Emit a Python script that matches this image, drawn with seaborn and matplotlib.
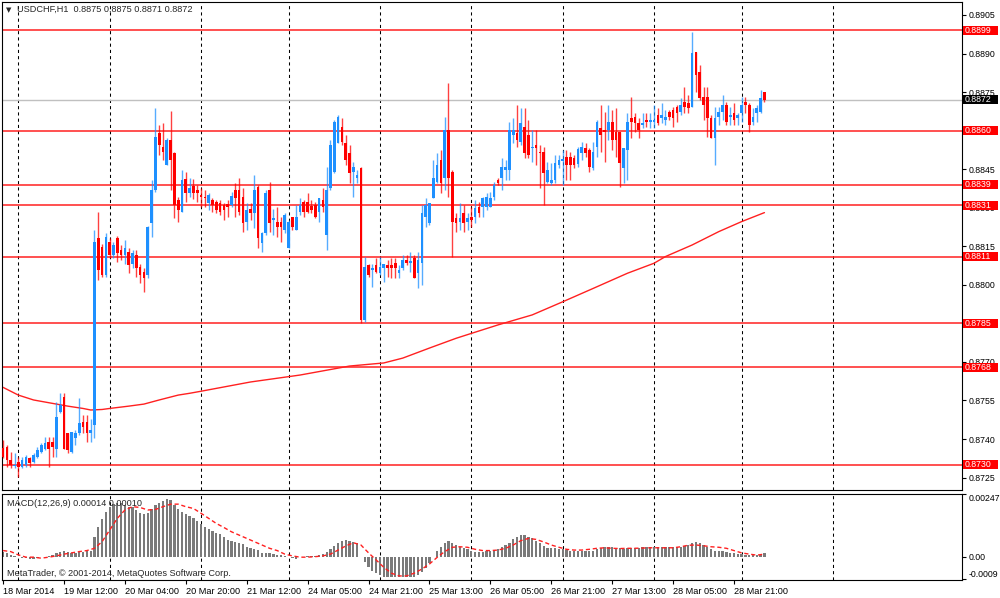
import numpy as np
import pandas as pd
import matplotlib
matplotlib.use("Agg")
import matplotlib.pyplot as plt
import matplotlib.transforms as mtransforms
from matplotlib.patches import Rectangle
import seaborn as sns

## USDCHF H1 candles, values in pips above 0.8700 (one per hourly bar)
base = 0.8700
pip = 0.0001

opens = [36.4, 37.0, 31.9, 29.4, 31.0, 29.3, 29.9, 32.5, 31.2, 33.1,
         35.0, 36.3, 39.0, 39.0, 36.3, 50.6, 56.5, 42.2, 35.0, 40.3,
         42.2, 46.7, 46.7, 42.2, 45.4, 118.1, 114.8, 103.8, 116.8, 111.6,
         118.1, 113.5, 111.6, 112.9, 108.3, 111.6, 107.1, 105.1, 103.8, 123.9,
         137.0, 158.9, 153.7, 146.6, 156.3, 151.2, 133.0, 128.5, 141.0, 135.6,
         138.4, 136.9,
         135.0, 134.0, 132.0, 133.0, 132.3, 131.7, 131.0, 131.3, 131.0, 136.9,
         136.9, 134.3, 124.6, 129.7, 127.8, 138.2, 116.1, 120.0, 136.9, 125.2,
         124.6, 124.6, 121.3, 114.2, 126.5, 121.3, 128.5, 132.3, 132.3, 130.7,
         131.1, 128.5, 133.0, 119.4, 137.5, 144.0, 155.0, 161.5, 155.0, 151.2,
         144.0, 141.4, 145.3, 86.3, 107.7, 105.8, 107.7, 104.5, 106.4, 107.7,
         107.7, 108.4, 104.5, 106.4, 109.7, 108.4, 110.3, 104.5, 108.4, 126.5,
         124.0, 133.7, 140.1, 148.6, 141.4, 160.3, 144.0, 125.9, 124.6, 127.8,
         124.6, 126.5, 126.5, 130.4, 130.4, 130.4, 130.4, 134.3, 140.8, 141.4,
         144.7, 144.7, 158.3, 159.0, 155.7, 161.6, 158.3, 153.1, 154.4, 151.8,
         151.8, 140.1, 139.5, 140.8, 146.6, 148.3, 149.6, 149.6, 149.2, 147.0,
         151.2, 153.1, 152.5, 145.3, 153.8, 160.9, 160.2, 160.2, 163.5, 159.6,
         159.6, 145.3, 152.5, 164.8, 165.4, 162.8, 162.2, 164.1, 163.5, 163.5,
         166.1, 164.8, 164.1, 167.4, 168.0, 169.3, 167.4, 171.3, 170.6, 169.3,
         190.7, 182.9, 173.2, 173.2, 164.8, 157.0, 165.4, 167.4, 170.0, 165.4,
         166.7, 164.8, 166.7, 171.3, 170.0, 163.5, 166.7, 167.4, 175.0]

highs = [39.6, 37.5, 35.0, 34.4, 33.0, 33.1, 33.8, 33.1, 34.4, 37.0,
         38.3, 40.9, 40.9, 40.9, 54.5, 57.8, 57.8, 42.2, 42.8, 43.5,
         55.8, 49.3, 49.3, 47.9, 121.3, 128.5, 116.0, 120.0, 118.1, 116.8,
         119.0, 115.5, 117.5, 114.2, 113.5, 113.5, 108.3, 106.4, 123.0, 140.8,
         168.7, 162.0, 163.0, 157.0, 167.5, 151.8, 134.3, 144.7, 144.0, 141.4,
         141.0, 138.8,
         137.5, 136.9, 135.6, 133.6, 133.0, 133.0, 131.7, 133.0, 136.2, 139.5,
         141.4, 137.5, 131.7, 131.7, 142.7, 138.8, 120.7, 136.9, 140.1, 129.7,
         130.4, 126.5, 127.8, 125.2, 126.5, 131.1, 133.6, 133.0, 135.6, 133.0,
         132.3, 133.6, 137.5, 146.0, 156.3, 164.1, 166.1, 164.8, 158.3, 154.4,
         147.9, 144.7, 146.0, 110.9, 108.3, 108.3, 110.3, 110.9, 108.3, 109.6,
         110.3, 110.3, 107.7, 111.6, 111.6, 112.8, 111.6, 112.8, 131.1, 133.7,
         131.7, 148.6, 151.2, 152.5, 165.4, 178.4, 144.7, 127.8, 131.7, 131.1,
         127.8, 130.4, 133.0, 132.4, 134.3, 135.6, 136.3, 140.1, 141.4, 149.2,
         148.6, 163.5, 164.8, 170.0, 168.7, 168.7, 164.1, 160.3, 160.3, 154.4,
         153.8, 147.9, 147.3, 150.5, 150.5, 152.5, 152.5, 151.8, 150.5, 153.8,
         155.7, 155.1, 153.1, 155.7, 164.1, 170.0, 167.4, 170.0, 168.0, 168.7,
         159.6, 153.1, 166.7, 173.2, 166.7, 164.8, 166.7, 166.7, 166.7, 170.0,
         168.7, 170.6, 168.0, 168.0, 169.3, 170.0, 172.6, 177.1, 173.9, 198.5,
         190.7, 185.5, 177.1, 177.1, 166.1, 169.3, 169.3, 173.9, 171.3, 169.3,
         170.6, 166.7, 173.2, 173.2, 170.6, 168.7, 170.0, 175.8, 175.0]

lows = [32.5, 29.2, 28.6, 28.6, 25.4, 28.6, 29.3, 29.3, 30.5, 32.5,
        34.4, 35.7, 29.2, 33.1, 33.1, 50.0, 36.3, 34.4, 34.4, 37.6,
        41.6, 42.2, 39.0, 39.0, 40.3, 101.9, 103.2, 103.2, 110.3, 110.3,
        109.0, 109.6, 108.3, 104.5, 106.4, 103.2, 100.6, 97.3, 102.5, 118.7,
        136.2, 150.5, 148.6, 146.6, 137.0, 126.0, 124.6, 128.5, 132.4, 134.0,
        133.5, 132.4,
        130.4, 130.4, 129.1, 128.5, 127.8, 127.2, 125.2, 126.5, 130.4, 126.5,
        127.2, 120.7, 121.3, 125.2, 122.0, 114.2, 112.9, 119.4, 120.7, 119.4,
        118.7, 116.8, 120.0, 114.2, 121.3, 121.3, 127.2, 126.5, 127.8, 127.8,
        125.9, 124.6, 128.5, 113.5, 136.9, 143.4, 155.0, 154.4, 146.6, 139.5,
        134.3, 139.5, 85.0, 85.7, 103.2, 99.3, 104.5, 103.8, 101.2, 103.2,
        102.5, 102.5, 102.5, 105.8, 107.7, 105.1, 102.5, 98.6, 99.9, 122.6,
        123.3, 133.7, 139.5, 135.6, 136.9, 134.3, 111.0, 120.7, 121.3, 120.7,
        121.3, 122.6, 124.0, 126.5, 126.5, 129.1, 130.4, 133.0, 138.9, 136.9,
        140.8, 140.8, 155.1, 153.8, 154.4, 149.2, 149.2, 147.9, 146.6, 137.6,
        131.1, 139.5, 138.9, 139.5, 145.3, 138.9, 140.8, 140.8, 145.3, 146.0,
        148.6, 149.9, 144.0, 144.7, 149.9, 151.8, 147.9, 156.4, 152.5, 149.9,
        138.2, 139.5, 140.8, 157.0, 159.6, 157.0, 161.0, 161.5, 161.0, 161.0,
        162.2, 162.8, 162.2, 164.1, 161.5, 163.5, 166.1, 166.7, 166.7, 169.3,
        175.2, 171.9, 164.1, 157.6, 157.0, 146.6, 162.2, 164.1, 162.2, 162.2,
        162.2, 162.2, 163.5, 166.7, 159.6, 162.2, 163.5, 166.7, 171.0]

closes = [33.1, 31.9, 29.9, 29.9, 29.3, 31.8, 33.1, 30.5, 33.8, 35.7,
          37.6, 38.3, 36.3, 37.0, 48.7, 53.2, 36.3, 35.7, 42.8, 42.2,
          46.1, 44.8, 42.2, 43.5, 116.8, 105.8, 103.8, 118.7, 111.6, 115.5,
          112.2, 111.6, 114.2, 107.7, 112.2, 106.4, 103.8, 102.5, 122.6, 137.0,
          157.6, 154.4, 151.8, 156.3, 148.6, 131.0, 129.1, 140.8, 135.6, 137.5,
          135.6, 135.6,
          134.0, 133.6, 134.9, 131.0, 129.1, 128.5, 129.0, 130.4, 134.5, 133.6,
          128.5, 123.9, 129.1, 127.8, 136.9, 118.1, 120.0, 135.6, 123.9, 125.9,
          122.6, 122.6, 127.2, 124.6, 122.6, 126.5, 131.1, 128.5, 128.5, 129.1,
          126.5, 133.6, 130.4, 136.9, 154.4, 163.5, 165.4, 155.7, 148.6, 143.4,
          146.0, 142.7, 86.3, 107.1, 103.8, 106.4, 105.1, 107.1, 108.3, 106.4,
          106.4, 106.4, 105.8, 109.7, 108.4, 109.2, 102.5, 109.7, 127.8, 131.1,
          131.7, 141.4, 146.6, 139.5, 160.3, 141.4, 124.6, 124.0, 125.9, 124.0,
          125.9, 125.2, 129.8, 127.8, 133.7, 134.3, 133.7, 138.9, 139.5, 146.0,
          146.0, 160.3, 160.3, 156.4, 162.8, 151.2, 150.5, 153.8, 153.1, 151.2,
          143.4, 144.7, 140.8, 147.3, 148.6, 148.8, 146.6, 146.6, 146.6, 153.0,
          153.8, 151.2, 146.0, 151.8, 163.5, 158.3, 159.6, 163.5, 156.4, 156.4,
          147.3, 153.1, 163.5, 163.5, 162.8, 160.2, 162.8, 163.5, 164.1, 164.1,
          162.8, 166.1, 165.4, 165.4, 164.8, 166.7, 170.0, 169.3, 168.7, 190.1,
          181.6, 172.6, 170.0, 164.8, 157.0, 164.8, 167.4, 170.0, 163.5, 166.1,
          164.1, 166.1, 170.0, 170.0, 162.2, 165.4, 168.7, 172.6, 172.0]

# moving average (bar index, pips)
ma_bars = [0, 4, 8, 14, 17, 21, 23, 26, 28, 33, 37, 41, 46, 49, 52, 65, 78, 91,
           100, 105, 112, 119, 123, 130, 139, 147, 155, 164, 171, 174, 181, 188, 194, 200]
ma_pips = [60.1, 57.1, 55.2, 53.6, 52.8, 51.9, 51.3, 51.5, 51.9, 52.8, 53.6, 55.2,
           57.1, 57.8, 58.6, 62.2, 64.9, 68.4, 69.6, 71.5, 75.4, 79.2, 81.1, 84.4,
           88.3, 93.4, 98.6, 104.5, 108.4, 111.0, 115.5, 120.7, 124.6, 128.1]

# MACD(12,26,9) main histogram, in units of 0.00001
macd_main = [20, 14, 8, 3, -2, -5, -7, -8, -9, -6,
             -3, 0, 3, 8, 13, 20, 24, 18, 15, 16,
             18, 20, 22, 24, 79, 118, 150, 177, 197, 207,
             212, 210, 203, 197, 194, 184, 173, 168, 173, 186,
             203, 212, 220, 226, 223, 203, 186, 177, 168, 160,
             151, 142, 129, 118, 108, 102, 94, 89, 76, 65,
             63, 59, 55, 50, 39, 33, 29, 26, 15, 13,
             15, 10, 8, 6, 3, 0, -4, -8, -3, 0,
             3, 3, 3, 6, 10, 20, 29, 42, 55, 63,
             65, 63, 59, 52, -3, -20, -42, -55, -65, -73,
             -79, -79, -79, -79, -79, -79, -79, -79, -79, -73,
             -62, -45, -26, 0, 24, 39, 55, 63, 55, 46,
             37, 33, 29, 24, 20, 18, 20, 22, 24, 26,
             29, 37, 46, 55, 68, 79, 85, 85, 76, 72,
             63, 52, 42, 35, 33, 33, 30, 29, 26, 24,
             21, 21, 22, 21, 22, 24, 29, 33, 37, 39,
             38, 35, 33, 32, 33, 34, 35, 35, 37, 37,
             39, 37, 37, 37, 37, 37, 37, 37, 39, 42,
             46, 55, 59, 55, 46, 37, 29, 24, 21, 21,
             18, 15, 13, 10, 10, 7, 6, 7, 8, 8,
             14]

# signal line, every second bar, units of 0.00001
sig_bars = list(range(0, 201, 2))
sig_vals = [24, 20, 7, -2, -2, -6, -2, 3, 10, 15, 20, 24, 33, 59, 105, 151, 184, 197, 194, 184,
            186, 197, 207, 207, 197, 190, 171, 151, 131, 115, 98, 85, 72, 59, 46, 33, 24, 10, 3, -2,
            -2, 0, 3, 10, 26, 42, 55, 46, 15, -13, -42, -65, -76, -76, -65, -49, -29, -3, 20, 37,
            39, 37, 29, 24, 24, 26, 33, 46, 63, 72, 68, 58, 46, 37, 29, 26, 26, 29, 33, 35,
            33, 32, 33, 33, 34, 35, 35, 35, 35, 39, 45, 46, 43, 39, 37, 33, 24, 15, 10, 6,
            10]

levels = [0.8899, 0.8860, 0.8839, 0.8831, 0.8811, 0.8785, 0.8768, 0.8730]
last_price = 0.8872
price_ticks = [0.8905, 0.8890, 0.8875, 0.8860, 0.8845, 0.8830, 0.8815, 0.8800,
               0.8785, 0.8770, 0.8755, 0.8740, 0.8725]
# scale labels fully covered by the level boxes in the terminal
hidden_ticks = [0.8860, 0.8785]

time_labels = ['18 Mar 2014', '19 Mar 12:00', '20 Mar 04:00', '20 Mar 20:00',
               '21 Mar 12:00', '24 Mar 05:00', '24 Mar 21:00', '25 Mar 13:00',
               '26 Mar 05:00', '26 Mar 21:00', '27 Mar 13:00', '28 Mar 05:00',
               '28 Mar 21:00']
label_bars = [0, 16, 32, 48, 64, 80, 96, 112, 128, 144, 160, 176, 192]
day_bars = [4, 28, 52, 75, 99, 123, 147, 171, 194, 218]

sns.set_style("white")
plt.rcParams['font.family'] = ['Liberation Sans', 'DejaVu Sans']
fs = 6.6
fs_axis = 6.3

df = pd.DataFrame({'o': opens, 'h': highs, 'l': lows, 'c': closes})
df = base + df * pip
df['bar'] = np.arange(len(df))
up = df['c'] >= df['o']
cols = np.where(up, '#1e90ff', '#ff0000')

fig = plt.figure(figsize=(10, 5.98), dpi=100)
ax = fig.add_axes([0.002, 0.1806, 0.960, 0.8161])
ax2 = fig.add_axes([0.002, 0.0301, 0.960, 0.1438])

# level lines and day grid
for lv in levels:
    ax.axhline(lv, color='#ff2020', lw=1.1, zorder=1.5)
ax.axhline(last_price, color='#c0c0c0', lw=1.0, zorder=1.4)
for b in day_bars:
    for a in (ax, ax2):
        a.axvline(b, color='black', lw=0.75, ls=(0, (3, 3)), zorder=1)

# candles
ax.vlines(df['bar'], df['l'], df['h'], colors=cols, lw=1.0, alpha=0.75, zorder=3)
body_lo = np.minimum(df['o'], df['c'])
body_h = np.maximum((df['c'] - df['o']).abs(), 0.4 * pip)
ax.bar(df['bar'], body_h, bottom=body_lo, width=0.7, color=cols, linewidth=0, zorder=4)

# moving average
sns.lineplot(x=ma_bars, y=base + np.array(ma_pips) * pip, ax=ax,
             color='#ff2020', lw=1.0, zorder=2)

ylo, yhi = 0.872017, 0.891006
ax.set_xlim(-0.29, 251.9)
ax.set_ylim(ylo, yhi)
ax.yaxis.tick_right()
ax.set_yticks(price_ticks)
ax.set_yticklabels(['' if t in hidden_ticks else f'{t:.4f}' for t in price_ticks])
ax.tick_params(axis='y', length=3, pad=2, labelsize=fs_axis, colors='black', right=True, left=False)
ax.tick_params(axis='x', bottom=False, labelbottom=False)

# right-side price labels
trans = mtransforms.blended_transform_factory(ax.transAxes, ax.transData)
box_h = 9 * (yhi - ylo) / 488
for lv, fc in [(v, '#ff0000') for v in levels] + [(last_price, 'black')]:
    ax.add_patch(Rectangle((1.001, lv - box_h / 2), 0.0365, box_h, transform=trans,
                           facecolor=fc, edgecolor='none', clip_on=False, zorder=10))
    ax.text(1.003, lv, f'{lv:.4f}', transform=trans, color='white', fontsize=fs_axis,
            va='center', ha='left', zorder=11, clip_on=False)

ax.text(0.0073, 0.984, '\u25bc', transform=ax.transAxes, fontsize=5,
        family='DejaVu Sans', va='center', ha='center')
ax.text(0.0156, 0.984, 'USDCHF,H1  0.8875 0.8875 0.8871 0.8872', transform=ax.transAxes,
        fontsize=fs, va='center', ha='left')

# MACD panel
ax2.bar(np.arange(len(macd_main)), np.array(macd_main) * 1e-5, width=0.6,
        color='#7a7a7a', linewidth=0, zorder=2)
sns.lineplot(x=sig_bars, y=np.array(sig_vals) * 1e-5, ax=ax2, color='#ff2020',
             lw=1.0, linestyle=(0, (3, 2)), zorder=3)
ax2.set_xlim(-0.29, 251.9)
ax2.set_ylim(-0.00092, 0.00247)
ax2.yaxis.tick_right()
ax2.set_yticks([0.00247, 0.0, -0.0009])
ax2.set_yticklabels(['0.00247', '0.00', '-0.0009'])
ylabs = ax2.get_yticklabels()
ylabs[0].set_va('top')
ylabs[2].set_va('bottom')
ax2.tick_params(axis='y', length=3, pad=1.5, labelsize=fs_axis, colors='black', right=True, left=False)
ax2.set_xticks(label_bars)
ax2.set_xticklabels(time_labels, ha='left')
ax2.tick_params(axis='x', length=3, pad=2, labelsize=fs, colors='black', bottom=True)
ax2.set_xlabel('')
ax2.set_ylabel('')
ax.set_xlabel('')
ax.set_ylabel('')

ax2.text(0.005, 0.89, 'MACD(12,26,9) 0.00014 0.00010', transform=ax2.transAxes,
         fontsize=fs, va='center', ha='left')
ax2.text(0.005, 0.07, 'MetaTrader, \u00a9 2001-2014, MetaQuotes Software Corp.',
         transform=ax2.transAxes, fontsize=fs, va='center', ha='left')

for a in (ax, ax2):
    for sp in a.spines.values():
        sp.set_color('black')
        sp.set_linewidth(0.8)

fig.savefig('out.png', dpi=100)
